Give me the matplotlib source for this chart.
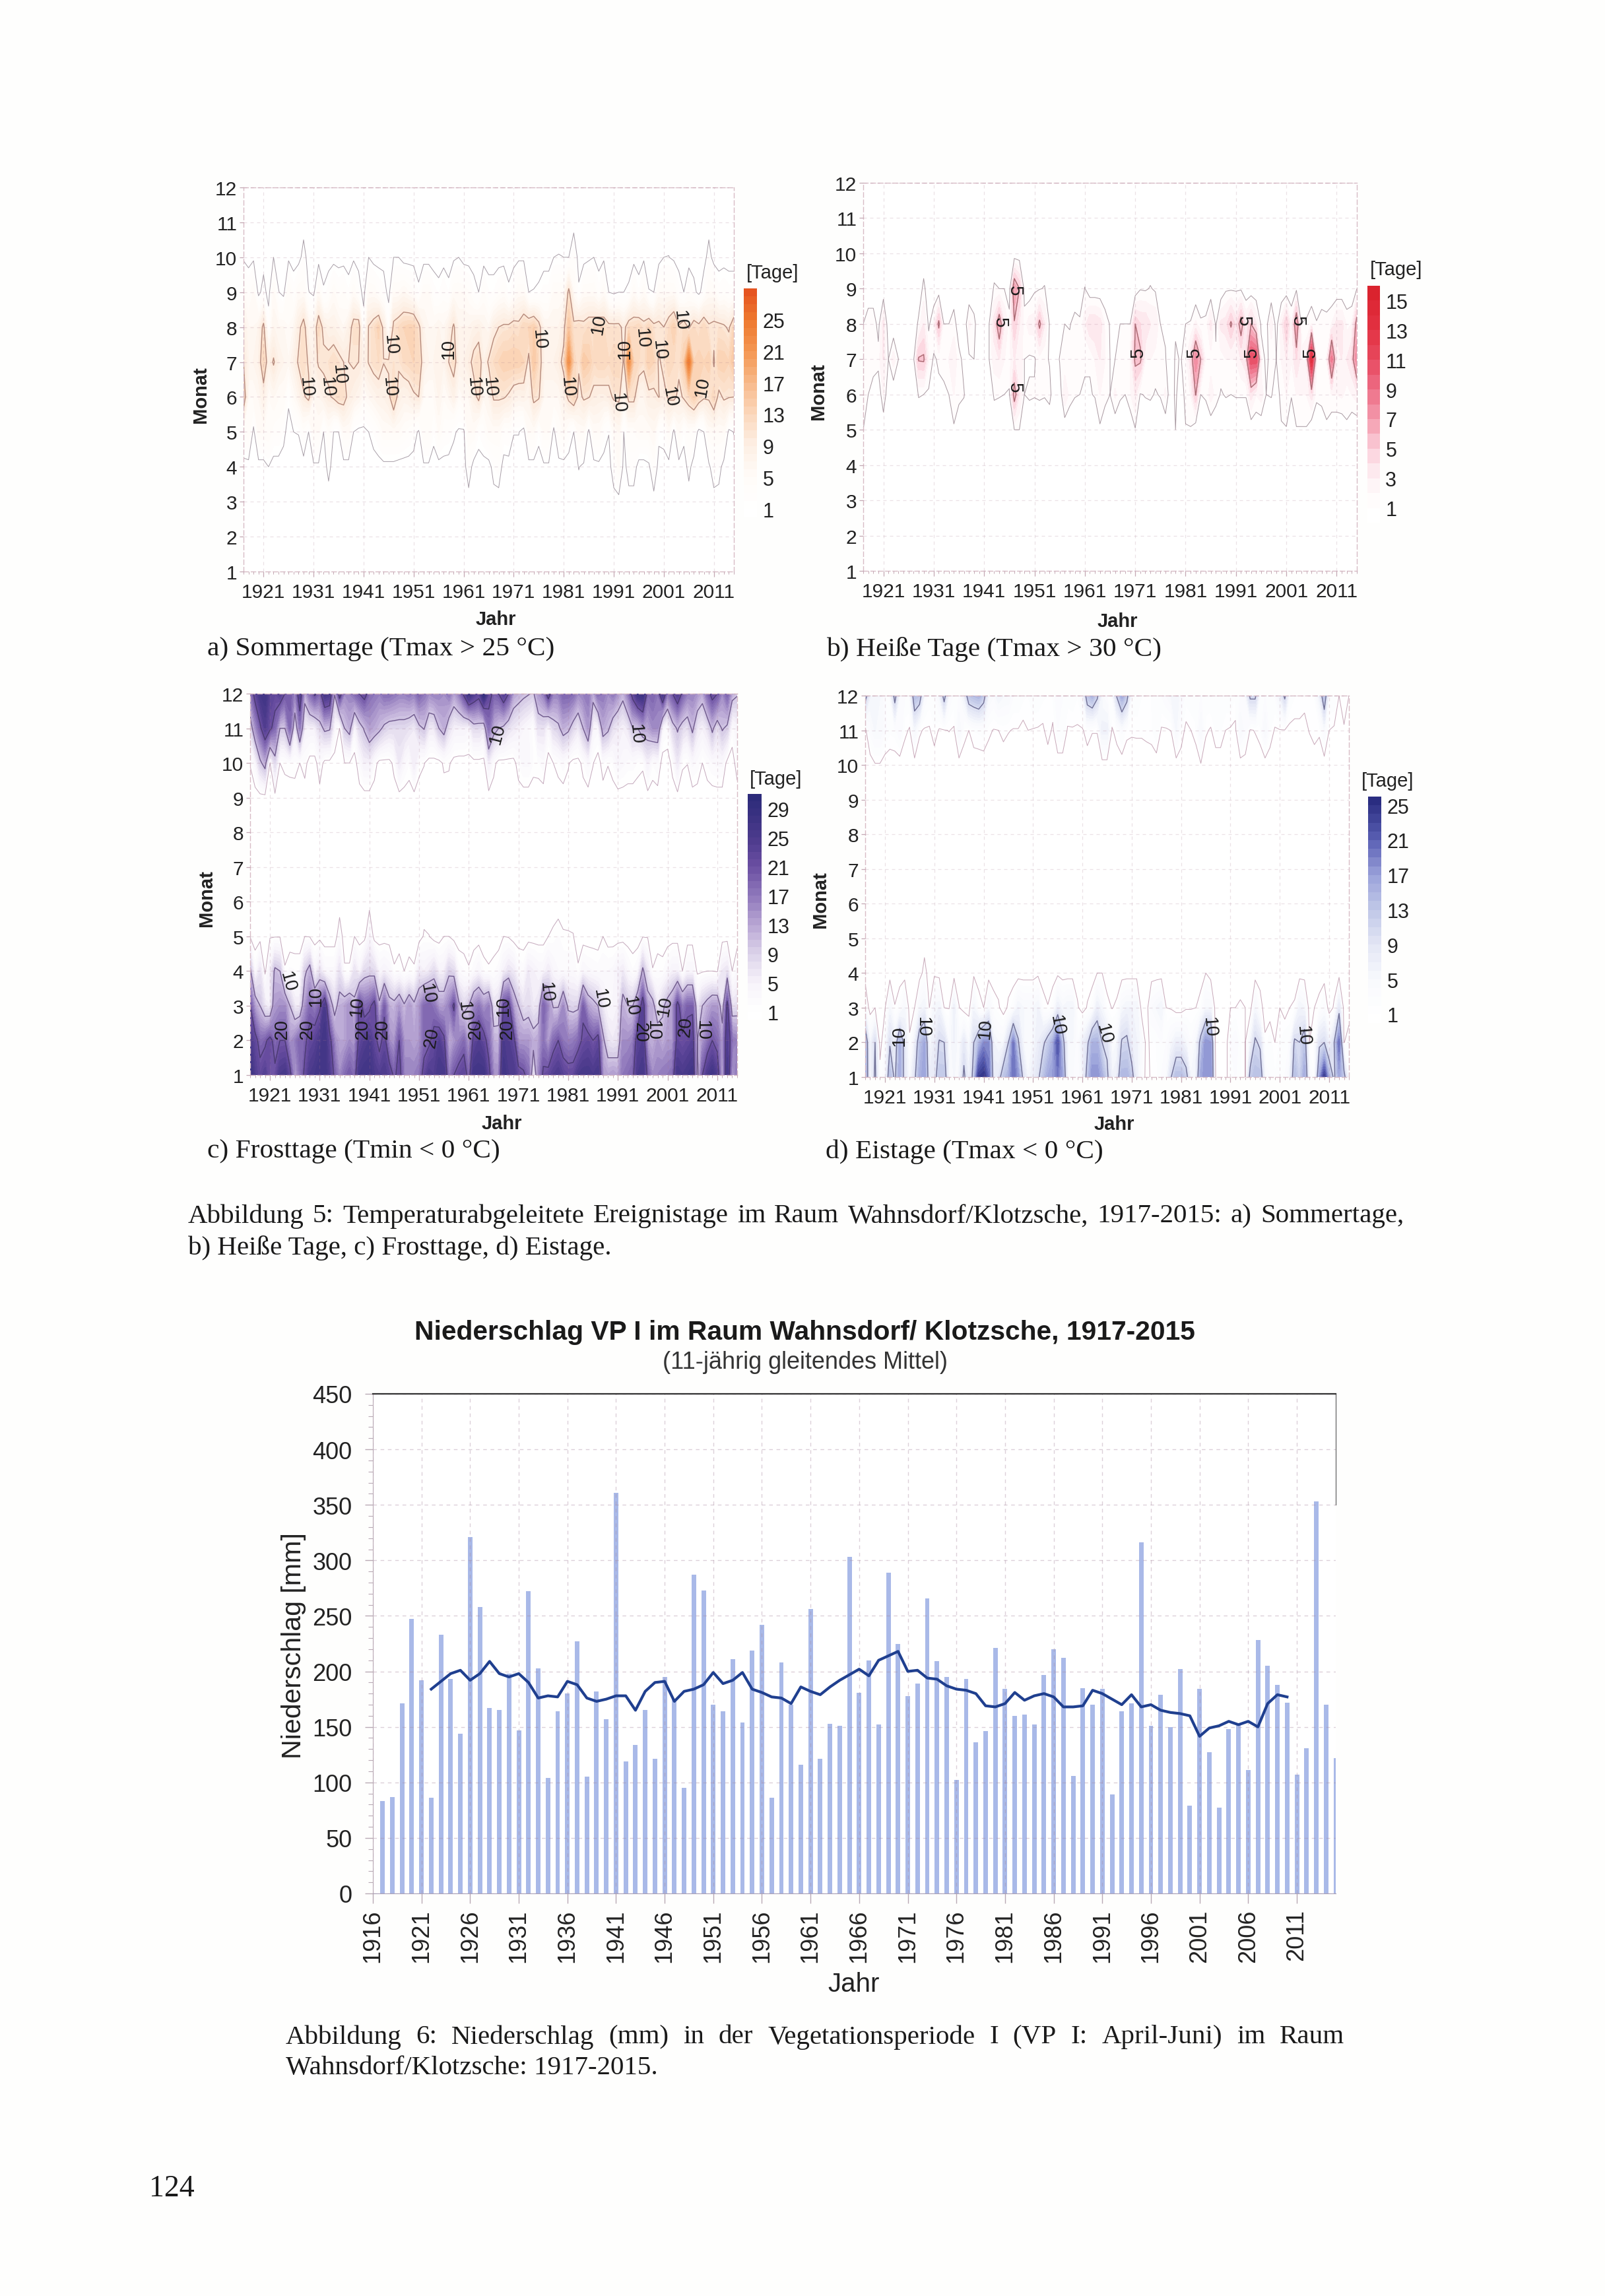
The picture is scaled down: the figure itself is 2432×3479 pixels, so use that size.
import numpy as np
import matplotlib
matplotlib.use('Agg')
import matplotlib.pyplot as plt
from matplotlib.colors import LinearSegmentedColormap
from matplotlib.ticker import MultipleLocator

plt.rcParams['font.family'] = ['Liberation Sans', 'DejaVu Sans']

W, H = 2432, 3480
jahre = np.arange(1917, 2016)
monate = np.arange(1, 13)

# a) Sommertage, values per month and year (read off the contours)
a_apr = [0, 0, 0, 0,
         0, 1, 0, 0, 0, 0, 0, 0, 0, 0,
         .5, .5, 0, 1.7, 0, 0, 0, 0, 0, 0,
         0, 0, 0, 0, .3, .3, .3, 0, 0, 0,
         0, 0, .5, .5, 0, 0, 0, 0, 0, 0,
         0, 2.5, 0, 0, 0, 0, 2, 2.5, 0, 0,
         0, 0, 0, 0, 0, 0, .5, .5, 0, 0,
         0, 0, 0, 1.1, .5, 0, 0, .3, 0, 0,
         2.5, 5, 0, 2.2, 2.2, 0, 0, .5, 3.3, 0,
         0, 0, 0, 0, 0, 1.7, 0, 0, 0, .5,
         2.5, 2, 0, 0, 0]
a_mai = [4, 5, .3, 5,
         5, 5, 3.3, 3.3, 1.7, 0, 1, 1.1, 3.3, 1,
         5, 5, 1, 4, 1, 1, 5, 5, 1, .3,
         .3, 1, 2, 3.3, 5, 5, 5, 5, 4, 3.3,
         2.2, .6, 5, 5, 1.7, 5, 3.3, 2.9, 1.4, .6,
         .6, 5, 5, 2, 3.3, 5, 5, 5, 2.9, 3.3,
         1.1, 1.1, .1, 5, 5, 1.7, 5, 5, .3, 4,
         5, 2.5, 1, 5, 5, .3, 5, 5, 2.5, 1.1,
         5, 6, 1, 4, 4, 5, 5, 5, 6, 1.7,
         2, 5, .3, 5, 1.7, 4, 3.3, .1, 1, 5,
         5, 5, 5, .3, 1.1]
a_jun = [13, 5, 5, 6,
         8, 5, 6, 5, 5, 1.5, 5, 7, 9.5, 11,
         6, 7, 8, 9.5, 10.5, 12, 11.5, 9, 8, 7,
         5, 6, 7, 8, 8, 9, 13, 8.6, 7.5, 8,
         9.5, 10, 5, 5, 5, 7, 5, 6, 8, 5,
         6, 6, 8.5, 11, 6, 7, 10.5, 10.5, 10.3, 9.5,
         8, 7.5, 8, 7, 11, 10.5, 6, 6, 6, 6,
         8, 11, 13, 9, 10.5, 10.2, 9, 8.5, 8.5, 9,
         10.5, 10.7, 7, 11, 11, 7, 7, 9, 9, 10.1,
         9, 10.5, 11, 9, 10.5, 12, 14, 12, 10.5, 10.5,
         13, 9, 10.5, 10.2, 10]
a_jul = [10, 7, 7, 8,
         13, 8, 10.4, 8, 7, 6, 8, 10.5, 12, 9.5,
         8, 10.5, 11, 11, 12, 11, 10, 10, 10.5, 10,
         8, 10.2, 11.5, 12, 10.1, 10.5, 11, 10.5, 12, 12.5,
         13, 13, 8, 7, 7, 8, 7, 10, 11.5, 8,
         8, 9, 11, 12, 8, 10.5, 12, 13, 14, 14,
         14, 14, 13, 9, 15, 12, 8, 8, 8, 9,
         11, 22, 13, 10.5, 15, 14, 12, 13, 13, 12,
         13, 13, 9.5, 22, 13, 12, 11, 14, 13, 9.5,
         11, 13, 12, 11, 14, 25, 13, 14, 13, 14,
         9.5, 14, 14, 13, 15]
a_aug = [8, 6, 6, 7,
         11, 2.5, 7, 6, 6, 5, 6, 9, 11.5, 7,
         7, 12.5, 9, 8, 8, 7, 6, 8, 11.5, 12,
         2.5, 10.2, 11.5, 13.5, 9, 3.3, 11, 12, 13, 13.5,
         13.5, 11, 7, 6, 6, 7, 6, 8, 10.5, 7,
         7, 7, 8, 8.5, 7, 6, 9, 10, 10.5, 10.7,
         11.5, 11, 13, 13, 14, 11.5, 7, 7, 7, 7,
         9, 15, 11, 12, 11, 12, 12, 13, 12, 11,
         11, 11, 9, 12, 12, 13, 11, 13, 11, 11,
         10, 12, 14, 10.5, 12, 9.5, 12, 11, 13, 10.5,
         11, 11, 10.5, 9.5, 13]
a_sep = [5, 3.3, 5, .3,
         2, 0, 5, 1.1, .3, 5, 2.5, 5, 5, 1.1,
         .3, 5, 1.25, 2.5, 5, 3.3, 4, 2, 5, 2.5,
         0, 5, 5, 3.3, 2.5, 0, 5, 5, 6, 5,
         4, 1.4, 5, 5, 2.5, 1.7, 3.3, 1.7, 5, 5,
         5, 4, 2, 1, 4, 2, 2, 3.3, 4, 1.4,
         3.3, 5, 5, 1, 1.1, 1.4, 2.5, 2.5, 5, 5,
         5, 11, 5, 1.4, 5, 5, 5, 2.5, 5, 1,
         .5, 1, 1, 1.4, 5, 2, 5, 1.1, 1, 5,
         5, 5, 5, 2.5, 1, 3.3, 1.7, .3, 2.5, 5,
         5, 2.5, 3.3, 2.5, 2.5]
a_okt = [.55, 0, .55, 0,
         0, 0, 1, 0, 0, .55, 0, 0, 2, 0,
         0, 0, 0, 0, 0, 0, 0, 0, .55, 0,
         0, 1, 0, 0, 0, 0, 1, 1, 0, 0,
         0, 0, 0, 0, 0, 0, 0, 0, .55, 1,
         0, 0, 0, 0, 0, 0, 0, 0, 0, 0,
         0, .55, .55, 0, 0, 0, 0, 0, 1, 1.1,
         1, 1, 3.3, 0, 0, .55, 1, 0, .55, 0,
         0, 0, 0, 0, 0, 0, .55, 0, 0, 0,
         1, 1.05, .55, 0, 0, 0, 0, 0, 0, 2,
         0, 0, 0, 0, 0]

# b) Heisse Tage
b_mai = [1, 0, 0, 0,
         0, 0, 0, 0, 0, 0, 0, 0, 0, 0,
         0, 0, 0, 0, .8, 0, 0, 0, 0, 0,
         0, 0, 0, 0, 0, 0, 1, 1, 0, 0,
         0, 0, 0, 0, 0, 0, 0, 0, 0, 0,
         0, 0, 0, .8, 0, 0, 0, 0, 0, 0,
         .9, 0, 0, 0, 0, 0, 0, 0, 1, 0,
         .9, .9, 0, 0, 0, 0, 0, 0, 0, 0,
         0, 0, 0, 0, 0, 0, 0, 0, 0, .9,
         .9, 0, .9, .9, .9, 0, 0, 0, .8, 0,
         0, 0, .8, 0, 0]
b_jun = [1.5, 1, .9, 0,
         2, 0, 0, 0, 0, 0, 0, 1.1, 1, .8,
         .5, .7, .7, 1, 2, 1.4, 1.1, 0, 0, 0,
         0, 0, 1.2, 1.1, 1, .9, 6, 3, 1, 1.2,
         1.1, 1.2, 1.1, 1.4, 0, 0, 2.9, 1.5, 1.1, 1,
         .9, .9, 1.1, 2, 1.5, 1, 2.2, 1.2, 1, 1.8,
         3, .9, 1.1, 1.2, .9, 1.1, 2.2, 0, 1.3, 0,
         1.5, 2, 5.1, 1, 1.2, 2.5, 1.5, .9, 1.1, 1,
         1.1, 1.1, 1.1, 3.5, 2, 2.5, 1, 1.1, .5, 1.3,
         2, 1.1, 2, 2, 2, 3.5, 1.3, 1.5, 1.5, 2,
         2, 2.2, 1.5, 2, 2.5]
b_jul = [1.5, 2, 1.1, 1.5,
         3, 1, 2.5, 1, 0, 0, .8, 5.2, 5.3, 2,
         .8, 1.2, 1.5, 2, 2.5, 1.5, .5, .8, 1, 0,
         0, 1, 2.5, 3, 2, 1.5, 3, 3, 1, .8,
         .9, 1.5, 1.3, .9, 0, 1.1, 1.2, 1.5, 1.5, 1.5,
         1.1, 1.1, 2, 3, 2, 1, 1, 1.2, 1.5, 1.8,
         5.5, 5.5, 2, 2, 1.5, 1.5, 1.1, 0, 1.2, .9,
         1.5, 3.5, 8, 5, 1.5, 1.5, 1.2, 1.5, 2, 2,
         2, 3, 4, 11, 11, 1.5, .8, 1.3, 1, 2,
         3, 2, 4, 2.5, 3, 14, 2, 2, 2, 8.5,
         2.5, 3, 3, 4, 8]
b_aug = [1, 1.8, 1.8, .5,
         3.3, 0, 0, 0, 0, 0, 0, 1.3, 3, .75,
         2, 5.5, 1, 1, 1.7, 0, 0, 2.2, 1.4, 0,
         0, 1, 3.5, 6.5, 3, 1.5, 4.8, 3, 1.5, 2.5,
         2.5, 5.5, 3, .9, 0, 0, 1, .9, 1.5, 1.25,
         2.5, 4, 4, 3.5, 1.7, .9, .8, 1, 1, 1,
         5, 4, 4, 3, 3, 1, .8, 0, .8, .9,
         1, 1.1, 2.2, 1.2, 1.3, 3.3, .8, 3.3, 3.5, 5.3,
         3.5, 6, 3, 5, 3, .8, .5, 2.5, .5, 2.5,
         5, 2, 7, 1, 1.2, 2, 1.1, 1.7, 1.5, 2,
         3.3, 3.3, 1.7, 2, 6]
b_sep = [0, 0, 0, 0,
         0, 0, 0, 0, 0, 0, 0, 0, 1.4, 0,
         0, 0, 0, 0, 0, 0, 0, 0, 0, 0,
         0, 0, 1.2, 1, 1, .3, 7, 5, .5, .2,
         .8, .9, 1.1, 0, 0, 0, 0, 0, 0, 0,
         1.05, 0, 0, 0, 0, 0, 0, 0, 0, 0,
         0, .9, .8, 1.1, .8, 0, 0, 0, 0, 0,
         0, 0, 0, 0, 0, 0, 0, 0, .8, .8,
         .8, .8, 0, 0, 0, 0, 0, 0, 0, 0,
         0, 0, .7, 0, 0, 0, 0, 0, 0, 0,
         0, 0, 0, 0, 1]

# c) Frosttage
c_jan = [28, 24, 22, 24,
         20, 21, 25, 26, 22, 13, 17, 21, 25, 26,
         27, 27, 24, 19, 15, 18, 20, 18, 26, 27,
         27, 25, 24, 25, 23, 19, 22, 16, 16, 16,
         17, 22, 25, 24, 26, 26, 16, 20, 22, 23,
         18, 27, 27, 27, 22, 15, 15, 27, 25, 25,
         22, 21, 18, 5, 15, 21, 22, 24, 25, 23,
         22, 22, 25, 26, 26, 25, 26, 14, 13, 14,
         13, 17, 18, 19, 25, 26, 19, 15, 16, 17,
         17, 18, 26, 25, 26, 27, 8, 20, 25, 27,
         24, 11, 26, 13, 17]
c_feb = [25, 22, 18, 19,
         21.7, 18, 20, 20, 14, 16, 19, 19, 22, 23,
         25, 27, 22, 15, 13, 13, 15, 14, 22, 24,
         25, 22, 18, 22, 15, 14, 20, 14, 14, 13,
         14, 18, 19, 22, 24, 21, 12, 14, 16, 18,
         13, 22, 24, 22, 18, 12, 11.5, 25, 24, 22,
         14, 14, 14, 12, 13, 17, 13, 18, 20, 17,
         16, 16.5, 18, 21, 22, 20, 22, 11, 7, 6,
         7, 15, 15, 16, 23, 24, 13, 12, 14, 12,
         14, 14, 22, 21, 22, 23, 10, 14, 17, 20,
         18, 13, 24, 17, 16]
c_mrz = [20, 13, 10, 6,
         5, 14, 15, 15, 10, 6, 6, 14, 18, 16,
         19, 25, 13, 8, 12, 13, 15, 11, 22, 18,
         19, 22, 11, 19, 12, 11.5, 14, 10.5, 14, 11,
         14, 18, 19, 17, 13.5, 13.5, 16, 21, 11, 8,
         10, 15, 17, 14, 16, 7, 8, 21, 22, 13,
         10, 7, 8, 6, 7, 19, 15, 9.5, 9.5, 15,
         9, 8.5, 9, 19, 13, 11.5, 10, 6, 4, 4,
         5, 12, 10, 10, 15, 23, 13, 12, 6, 9,
         12, 14, 22, 16, 19, 19, 6, 10, 12, 14,
         14, 7, 22, 7, 7.5]
c_apr = [11, 2.5, 6.7, .5,
         5, 11, 10, 1.2, 2.2, 2, 2, 9, 12, 4,
         7, 3.3, 3.3, 3.3, 7, 1.3, 1.3, 7, 4, 8,
         8.5, 8, 4, 5, 4, 1.25, 2, 1, 1.7, 1.25,
         6, 5, 6, 8, 5, 5, 9, 8, 2.5, 2,
         1.2, 2.5, 4, 1.7, 1.25, 1.7, 2.5, 5, 7, 6,
         2.9, 2.5, 6, 5, 4, 4, 6, 4, 3, 3,
         3, 3, 1.3, 4, 3.3, 2.9, 2.5, 3, 3, 3.3,
         5, 6, 3.3, 2, 3, 11, 6, 1.1, 2, 1.7,
         3.3, 5, 5, 1, 4, 4, .5, .7, 1, 1,
         .7, 6, 7, 1, 2.9]
c_mai = [.8, 0, 0, 0,
         .8, .8, .8, 0, 0, 0, 0, 1, .8, 0,
         .3, 0, 0, 0, 2.2, 0, 0, 1, 0, .1,
         4, 0, 0, 0, 0, 0, 0, 0, 0, 0,
         0, 1.25, 1.05, 0, 0, 1, 1, 0, 0, 0,
         0, 0, 0, 0, 0, 0, 0, 1, .8, 0,
         0, 0, 0, 0, 0, 0, 1, 1.4, 2, 1.25,
         1.2, 1.1, 0, 0, 0, 0, 0, 1, .1, 0,
         0, 0, 0, 0, 0, .8, .8, 0, 0, 0,
         0, 0, 0, 0, 0, 0, 0, 0, 0, 0,
         0, 0, 0, 0, 0]
c_okt = [1.1, 3.3, 9, 12,
         1, 8, 1, 1.5, 1.7, 1.8, 1, 1.8, 0, 0,
         2.5, .2, .2, 0, 0, 1, 1, 0, 2.5, 5,
         5, 2, .2, .2, .2, 1.7, 6, 3.3, 2, 6,
         1.7, 1.1, .2, .2, .2, 1.4, 1.3, .2, 0, 0,
         0, .2, .2, .1, 5, 1.7, .2, .2, .2, .2,
         2, 3.3, 3.3, 1.7, 1.8, 2.5, 0, 1, 1.7, 2.5,
         1.25, .2, .2, 1.7, 3.3, 1.1, 0, 2, 1.1, 2,
         4, 3.3, 2.5, 2.5, 1.7, 1.3, 5, 2, 2.9, 0,
         0, 1.7, 6, 1.25, 1.05, 3.3, 2.5, 1, 2, 2.9,
         3.3, 3.3, .2, 0, 2]
c_nov = [7, 14, 19, 24,
         21, 18, 10, 10, 18, 6, 16, 5, 5, 5,
         8, 11, 10.5, 3.3, 1, 10, 12, 3.3, 8, 10.5,
         13.5, 12.5, 11, 9, 8, 8, 8, 8, 7, 6,
         9, 10.3, 6, 6, 10, 12, 7, 5, 5, 5,
         4, 8, 8, 6.5, 17.5, 12, 10, 9, 7, 6,
         5, 4, 3, 1.5, 7, 7, 3.3, 8, 9, 12,
         11, 8, 6, 10, 14, 4, 3.3, 12.5, 11, 7,
         6, 5, 6, 10, 10, 13, 12.7, 15, 15, 3.3,
         2.5, 8, 10.5, 8, 7, 11, 6, 5, 6.5, 11,
         7, 10.5, 9, 2.2, 4]
c_dez = [16, 22, 26, 27,
         23, 22, 24, 20, 20, 15, 24, 12, 17.5, 21,
         18, 26, 25, 10.3, 23, 15, 16, 18, 20, 22,
         18, 17, 16, 18, 18, 17, 16, 16, 17, 16,
         19, 17, 15, 16, 16, 15, 17, 13, 16, 21,
         28, 24, 22, 30, 22, 19, 20, 24, 20, 13,
         12, 11, 10.3, 9.5, 14, 16, 23, 16, 16, 19,
         19, 18, 15, 16, 17, 12, 18, 17, 15, 17,
         14, 11.3, 16, 22, 27, 28, 18, 19, 17, 26,
         16, 20, 24, 19, 16, 16, 14, 12, 18, 22,
         20, 15, 19, 12, 10.5]

# d) Eistage
d_jan = [16, 4, 11, 2,
         4, 14, 9, 16, 8, 4, 9, 15, 17, 7,
         8, 13, 13, 5, 5, 5, 11, 6, 12, 24,
         25, 20, 8, 8, 13, 15, 20, 17, 9, 5,
         7, 9, 13, 16, 17, 19, 16, 5, 4, 3,
         5, 12, 18, 18, 15, 11, 6, 7, 15, 15,
         12, 6, 3, 0, 1.5, 1.5, 3, 4, 10, 14,
         14, 12, 5, 6, 16, 18, 18, 1, 0, 0,
         3, 3, 2, 1, 12, 14, 14, 4, 3, 2,
         2.5, 3, 5, 14, 11, 16, 4, 2, 16, 24,
         14, 9, 16, 12, 3]
d_feb = [14.4, 5, 10, 0,
         3, 9.5, 7, 15, 8, 1.4, 6, 13, 16, 5,
         7, 10.3, 10, 4, 6, 4, 8, 4, 10, 14,
         18, 18, 6, 5, 5, 10, 19, 10.5, 5, 5,
         5, 7, 9, 12, 15, 22, 12, 5, 5, 3,
         6.5, 9, 15, 15, 10, 9, 4, 5, 10.5, 11,
         7, 6, 4, 0, 2, 2, 3, 3, 5, 7,
         7, 5, 3, 5, 12, 18, 17, 0, 0, 0,
         3, 4, 2, 1, 5, 10.8, 9, 1.4, 2.5, 1,
         2, 3, 3, 11, 10, 13, 1, 2, 9, 10,
         6, 10, 20, .9, 2]
d_mrz = [3.3, 0, 1, 0,
         .8, 5, 1.1, 2.5, 5, 0, 1, 5, 6, 1,
         5.5, 6, 1, .9, 6.6, 1.1, 0, 0, 5.5, 2,
         1, 5, 2, 1.3, 0, 1.4, 2.5, 6, 5, 5,
         5, 6, 2, 1.1, 2.5, 7, 5, 6, 6, 1.3,
         0, 1.2, 2.5, 7, 5, 1.7, .9, 1.4, 5, 6,
         6, 6, 0, 0, 4, 5, 6, 1, .8, 0,
         0, .8, .9, 1, 2, 5, 5, 0, 0, 0,
         1, 1, 1.3, 1, 0, 5, 2, 0, 0, 0,
         1, 0, 1, 1.3, 6, 5, 0, 1, 1.7, 3.3,
         0, 1.3, 8, 0, 0]
d_apr = [0, 0, 0, 0,
         0, 0, 0, 0, 0, 0, 0, 0, 1.8, 0,
         .5, .2, 0, 0, 0, 0, 0, 0, .5, 0,
         0, 0, 0, 0, 0, 0, 0, 0, 0, 0,
         0, .5, 0, 0, 0, .5, 0, 0, 0, 0,
         0, 0, 0, 1, 1, 0, 0, 0, 0, 0,
         0, 0, 0, 0, 0, 0, 0, 0, 0, 0,
         0, 0, 0, 0, 0, 1, 0, 0, 0, 0,
         0, 0, 0, 0, 0, 0, 0, 0, 0, 0,
         0, 0, 0, 0, 0, 0, 0, 0, 0, 0,
         0, 0, 0, 0, 0]
d_okt = [0, 0, .8, .8,
         0, 0, 0, 0, 0, 0, 0, 0, 0, 0,
         0, 0, 0, 0, 0, 0, 0, 0, 0, 0,
         0, 0, 0, 0, 0, 0, 0, 0, 0, 0,
         0, 0, 0, 0, 0, 0, 0, 0, 0, 0,
         0, 0, 0, 0, 0, 0, 0, 0, 0, 0,
         0, 0, 0, 0, 0, 0, 0, 0, 0, 0,
         0, 0, 0, 0, .8, 0, 0, 0, 0, 0,
         0, 0, 0, 0, 0, 0, 0, 0, 0, 0,
         0, 0, 0, 0, 0, 0, 0, 0, 0, 0,
         0, 0, 0, 0, 0]
d_nov = [.5, 3.3, 5, 5,
         3.3, 2.2, 2.5, 4, 1.4, .8, 5, 1.25, .8, .8,
         1.8, .8, .9, 1.05, .8, 5, 1.7, 1, 2, 2.2,
         2.5, 1.4, .9, 1, 1.5, 1.1, .9, .9, .5, 1,
         .9, .8, .7, 1.7, .7, 2.9, 2.9, .8, .8, .8,
         .8, 1.8, 1.1, 1.1, 6.7, 6.7, .8, 1.7, 3.3, 1.4,
         1.25, 1.3, 1.3, 1.5, 1.7, 2.9, .8, .8, 1.05, 5,
         2, .5, 1, 1.7, 5, 1.25, .8, 2, 2, 1,
         .8, .6, 5, 3.3, .8, 1.1, 1.7, 5, 2, .8,
         .9, .9, .5, .5, .5, .5, 1.1, 1.7, 1.25, 4,
         1, .7, .7, .8, .5]
d_dez = [12, 6, 6, 5,
         3, 3, 12, 4, 3, 3, 14, 13, 4, 2.5,
         3, 5, 12, 4, 2.5, 3, 6, 13, 14, 15,
         12, 5, 4, 6, 5, 5, 3, 3, 2.2, 2,
         3, 3, 2.2, 2, 2, 4, 3, 2.5, 3, 2,
         4, 13, 15, 11, 4, 3, 3, 10.5, 16, 12,
         3, 3, 2, 2, 2, 3, 3, 4, 5, 6,
         4, 2.5, 3, 3, 3, 3, 3, 3, 3, 3,
         3, 2, 3, 4, 11, 11, 3, 3, 3, 3,
         6, 11, 3, 2, 2, 1.5, 2, 2, 6, 14,
         3, 3, 1, 2, 1]

# contour labels: year, month, text, rotation
a_labels = [(1946.3, 7.5, '10', -85), (1946, 6.3, '10', -85), (1936, 6.65, '10', -85), (1933.6, 6.3, '10', -85),
            (1929.4, 6.3, '10', -85), (1958, 7.4, '10', 90), (1962.9, 6.3, '10', -85), (1966.1, 6.3, '10', -85),
            (1976, 7.65, '10', -85), (1981.6, 6.3, '10', -85), (1988, 8.1, '10', 80), (1991.8, 5.85, '10', -85),
            (1993.2, 7.4, '10', 90), (1996.6, 7.7, '10', -85), (2000, 7.35, '10', -85), (2002.2, 6, '10', -80),
            (2004.2, 8.2, '10', -85), (2008.7, 6.3, '10', 80)]
b_labels = [(1944.1, 8.05, '5', -90), (1947, 8.95, '5', -90), (1947, 6.2, '5', -90), (1971.6, 7.2, '5', 90),
            (1982.7, 7.2, '5', 90), (1994.2, 7.2, '5', 90), (2005.8, 7.2, '5', 90), (1992.4, 8.1, '5', -90),
            (2003.2, 8.1, '5', -90)]
c_labels = [(1966.8, 10.85, '10', 75), (1994.6, 10.85, '10', -85), (1924.5, 3.7, '10', -75), (1930.3, 3.3, '10', 90),
            (1938.5, 3, '10', 85), (1952.7, 3.35, '10', -80), (1960, 2.85, '10', -85), (1968, 3, '10', 90),
            (1976.5, 3.4, '10', -85), (1987.5, 3.2, '10', -80), (1993.6, 3, '10', -80), (2000.5, 3, '10', 80),
            (1998, 2.3, '10', -90), (2008, 2.3, '10', -90), (1923.5, 2.35, '20', 90), (1928.5, 2.35, '20', 90),
            (1939.7, 2.35, '20', 90), (1943.6, 2.35, '20', 90), (1953.6, 2.1, '20', 80), (1962.3, 2.35, '20', 90),
            (1968.8, 2.35, '20', 90), (1995.4, 2.25, '20', -90), (2004.6, 2.4, '20', 85)]
d_labels = [(1923.9, 2.2, '10', 90), (1928.6, 2.45, '10', -90), (1941.3, 2.4, '10', 85), (1955.9, 2.5, '10', -80),
            (1965.4, 2.25, '10', -75), (1986.7, 2.45, '10', -85), (2005.7, 2.2, '10', -85)]

# Niederschlag VP I
nied_jahre = np.arange(1917, 2016)
nied = [83, 87, 171, 247,
        192, 86, 233, 193, 144, 321, 258, 167, 165, 198,
        147, 272, 203, 104, 164, 180, 227, 105, 182, 157,
        361, 119, 134, 165, 121, 195, 175, 95, 287, 273,
        170, 164, 211, 154, 219, 242, 86, 208, 170, 116,
        256, 121, 153, 151, 303, 181, 210, 152, 289, 225,
        178, 189, 266, 209, 195, 102, 193, 136, 146, 221,
        184, 160, 161, 152, 197, 220, 212, 106, 185, 170,
        184, 89, 164, 171, 316, 151, 179, 150, 202, 79,
        184, 127, 77, 148, 152, 111, 228, 205, 188, 172,
        107, 131, 353, 170, 122]
mittel_jahre = np.arange(1922, 2011)
mittel = [184, 191, 198, 201, 192, 198, 209, 198, 195,
          198, 190, 176, 178, 177, 191, 188, 176, 173, 175,
          178, 178, 165, 182, 190, 191, 173, 182, 184, 188,
          199, 189, 192, 199, 184, 181, 177, 176, 171, 186,
          182, 179, 186, 192, 197, 202, 196, 210, 214, 218,
          200, 201, 194, 193, 187, 184, 183, 180, 169, 168,
          171, 181, 174, 178, 180, 177, 168, 168, 169, 183,
          180, 175, 170, 179, 168, 170, 165, 163, 162, 160,
          141.5, 149, 151, 155, 152, 155, 150, 171, 179, 177]

fig = plt.figure(figsize=(W / 100, H / 100), dpi=100, facecolor='#fefefd')
renderer = fig.canvas.get_renderer()


def px_axes(x0, y0, x1, y1):
    return fig.add_axes([x0 / W, 1 - y1 / H, (x1 - x0) / W, (y1 - y0) / H])


def page_text(x, y, s, **kw):
    kw.setdefault('va', 'center')
    return fig.text(x / W, 1 - y / H, s, **kw)


def justified(x0, x1, y, s, **kw):
    # spread the words of one line from x0 to x1, like the typeset page
    woerter = s.split(' ')
    stuecke = [page_text(x0, y, w, **kw) for w in woerter]
    breiten = [t.get_window_extent(renderer).width for t in stuecke]
    luecke = (x1 - x0 - sum(breiten)) / (len(woerter) - 1)
    x = x0
    for t, b in zip(stuecke, breiten):
        t.set_x(x / W)
        x += b + luecke


def matrix(rows):
    z = np.zeros((12, 99))
    for monat, werte in rows.items():
        z[monat - 1] = werte
    return z


def cmap_from(stops, vmax):
    return LinearSegmentedColormap.from_list('c', [(v / vmax, c) for v, c in stops])


def draw_panel(z, box, cbox, stops, vmax, linien, cticks, labels, tage_xy, monat_xy, jahr_xy, caption, cap_xy):
    ax = px_axes(*box)
    cf = ax.contourf(jahre, monate, z, levels=np.arange(0, vmax + 1), cmap=cmap_from(stops, vmax),
                     vmin=0, vmax=vmax)
    cf.set_edgecolor('face')
    for level, farbe, lw in linien:
        ax.contour(jahre, monate, z, levels=[level], colors=farbe, linewidths=lw)
    ax.set_xlim(1917, 2015)
    ax.set_ylim(1, 12)
    ax.set_xticks(np.arange(1921, 2012, 10))
    ax.set_xticks(np.arange(1917, 2016), minor=True)
    ax.set_yticks(monate)
    ax.grid(True, color='#a87a90', alpha=0.22, lw=0.9, ls=(0, (4, 4)))
    ax.set_axisbelow(False)
    ax.tick_params(axis='x', which='major', length=6, width=0.9, color='#c4a8b4', labelsize=21.5, pad=6,
                   labelcolor='#222222')
    ax.tick_params(axis='x', which='minor', length=3, width=0.7, color='#c4a8b4')
    ax.tick_params(axis='y', length=4, width=0.9, color='#c4a8b4', labelsize=21.5, pad=3, labelcolor='#222222')
    for s in ax.spines.values():
        s.set_color('#d8bcc6')
        s.set_linewidth(1.0)
        s.set_linestyle((0, (5, 3)))
    for x, y, t, rot in labels:
        ax.text(x, y, t, rotation=rot, ha='center', va='center', fontsize=20, color='#1a1a1a', zorder=5)

    cax = px_axes(*cbox)
    cb = fig.colorbar(cf, cax=cax, ticks=cticks)
    cb.outline.set_visible(False)
    cax.tick_params(length=0, labelsize=22, pad=6, labelcolor='#222222')

    page_text(tage_xy[0], tage_xy[1], '[Tage]', ha='center', fontsize=21, color='#222222')
    page_text(monat_xy[0], monat_xy[1], 'Monat', ha='center', rotation=90, fontsize=21, fontweight='bold',
              color='#222222')
    page_text(jahr_xy[0], jahr_xy[1], 'Jahr', ha='center', fontsize=21, fontweight='bold', color='#222222')
    page_text(cap_xy[0], cap_xy[1], caption, family='Liberation Serif', fontsize=29.8, color='#1a1a1a')


orange = [(0, '#ffffff'), (1, '#ffffff'), (5, '#fffbf8'), (9, '#fdf0e5'), (13, '#fbd8bd'), (17, '#f8b98a'),
          (21, '#f49652'), (25, '#ee7a30'), (29, '#e4501f')]
rot = [(0, '#ffffff'), (1, '#ffffff'), (3, '#fef2f5'), (5, '#fbd0da'), (7, '#f49cae'), (9, '#ee6f87'),
       (11, '#e74a60'), (13, '#e33344'), (16, '#d9202a')]
lila = [(0, '#ffffff'), (1, '#ffffff'), (5, '#f7f3fa'), (9, '#dcd3ea'), (13, '#b9a7d4'), (17, '#8f78bb'),
        (21, '#6b4fa2'), (25, '#4b3a8c'), (31, '#2a2a78')]
blau = [(0, '#ffffff'), (1, '#ffffff'), (5, '#f8f9fd'), (9, '#e3e6f5'), (13, '#c0c8e8'), (17, '#9ba2da'),
        (21, '#5a60b4'), (26, '#26287c')]

draw_panel(matrix({4: a_apr, 5: a_mai, 6: a_jun, 7: a_jul, 8: a_aug, 9: a_sep, 10: a_okt}),
           (369, 285, 1112, 867), (1127, 438, 1147, 784), orange, 29,
           [(1, '#a89ea8', 0.7), (10, '#b58a7c', 1.0)], [1, 5, 9, 13, 17, 21, 25], a_labels,
           (1171, 414), (304, 598), (751, 939), 'a) Sommertage (Tmax > 25 °C)', (314, 984))
draw_panel(matrix({5: b_mai, 6: b_jun, 7: b_jul, 8: b_aug, 9: b_sep}),
           (1308, 278, 2056, 866), (2072, 434, 2091, 793), rot, 16,
           [(1, '#a89aa2', 0.7), (5, '#a86a72', 1.0)], [1, 3, 5, 7, 9, 11, 13, 15], b_labels,
           (2116, 409), (1240, 593), (1693, 942), 'b) Heiße Tage (Tmax > 30 °C)', (1252, 984))
draw_panel(matrix({1: c_jan, 2: c_feb, 3: c_mrz, 4: c_apr, 5: c_mai, 10: c_okt, 11: c_nov, 12: c_dez}),
           (379, 1052, 1117, 1630), (1133, 1204, 1154, 1546), lila, 31,
           [(1, '#c4a8bc', 0.7), (10, '#6f5a8c', 1.0), (20, '#4a3a70', 1.0)], [1, 5, 9, 13, 17, 21, 25, 29], c_labels,
           (1176, 1181), (313, 1361), (760, 1703), 'c) Frosttage (Tmin < 0 °C)', (314, 1745))
draw_panel(matrix({1: d_jan, 2: d_feb, 3: d_mrz, 4: d_apr, 10: d_okt, 11: d_nov, 12: d_dez}),
           (1311, 1055, 2044, 1633), (2073, 1208, 2093, 1551), blau, 26,
           [(1, '#c8a8b8', 0.7), (10, '#6f6f94', 1.0)], [1, 5, 9, 13, 17, 21, 25], d_labels,
           (2103, 1184), (1243, 1363), (1688, 1704), 'd) Eistage (Tmax < 0 °C)', (1251, 1745))

# body text
serif = dict(family='Liberation Serif', color='#1a1a1a', fontsize=29.5)
justified(285, 2127, 1843,
          'Abbildung 5: Temperaturabgeleitete Ereignistage im Raum Wahnsdorf/Klotzsche, 1917-2015: a) Sommertage,',
          **serif)
page_text(285, 1891, 'b) Heiße Tage, c) Frosttage, d) Eistage.', **serif)
justified(433, 2037, 3087, 'Abbildung 6: Niederschlag (mm) in der Vegetationsperiode I (VP I: April-Juni) im Raum',
          **serif)
page_text(433, 3134, 'Wahnsdorf/Klotzsche: 1917-2015.', **serif)
page_text(226, 3317, '124', family='Liberation Serif', color='#1a1a1a', fontsize=33)

# Niederschlag chart
page_text(1219, 2019, 'Niederschlag VP I im Raum Wahnsdorf/ Klotzsche, 1917-2015', ha='center', fontsize=29.3,
          fontweight='bold', color='#1a1a1a')
page_text(1220, 2065, '(11-jährig gleitendes Mittel)', ha='center', fontsize=26, color='#333333')

ax = px_axes(565, 2113, 2024, 2870)
ax.bar(nied_jahre, nied, width=0.47, color='#a9b9e8', linewidth=0)
ax.plot(mittel_jahre, mittel, color='#1f3f8f', lw=3)
ax.set_xlim(1916, 2015)
ax.set_ylim(0, 450)
ax.set_xticks(np.arange(1916, 2012, 5))
ax.set_yticks(np.arange(0, 451, 50))
ax.yaxis.set_minor_locator(MultipleLocator(10))
ax.grid(True, color='#a88aa0', alpha=0.4, lw=1.0, ls=(0, (4, 4)))
ax.tick_params(axis='x', length=11, width=1, color='#b9a9b5', labelsize=26, pad=6, labelrotation=90,
               labelcolor='#222222')
ax.tick_params(axis='y', length=8.5, width=1, color='#b9a9b5', labelsize=26, pad=14, labelcolor='#222222')
ax.tick_params(axis='y', which='minor', length=5, width=0.8, color='#b9a9b5')
ax.spines['top'].set_color('#333333')
ax.spines['top'].set_linewidth(1.6)
ax.spines['right'].set_color('#555555')
ax.spines['right'].set_bounds(350, 450)
ax.spines['left'].set_color('#b9a9b5')
ax.spines['bottom'].set_color('#a9a0b5')
page_text(445, 2494, 'Niederschlag [mm]', ha='center', rotation=90, fontsize=29.6, color='#222222')
page_text(1294, 3007, 'Jahr', ha='center', fontsize=29, color='#222222')

fig.savefig('out.png', dpi=100, facecolor=fig.get_facecolor())
